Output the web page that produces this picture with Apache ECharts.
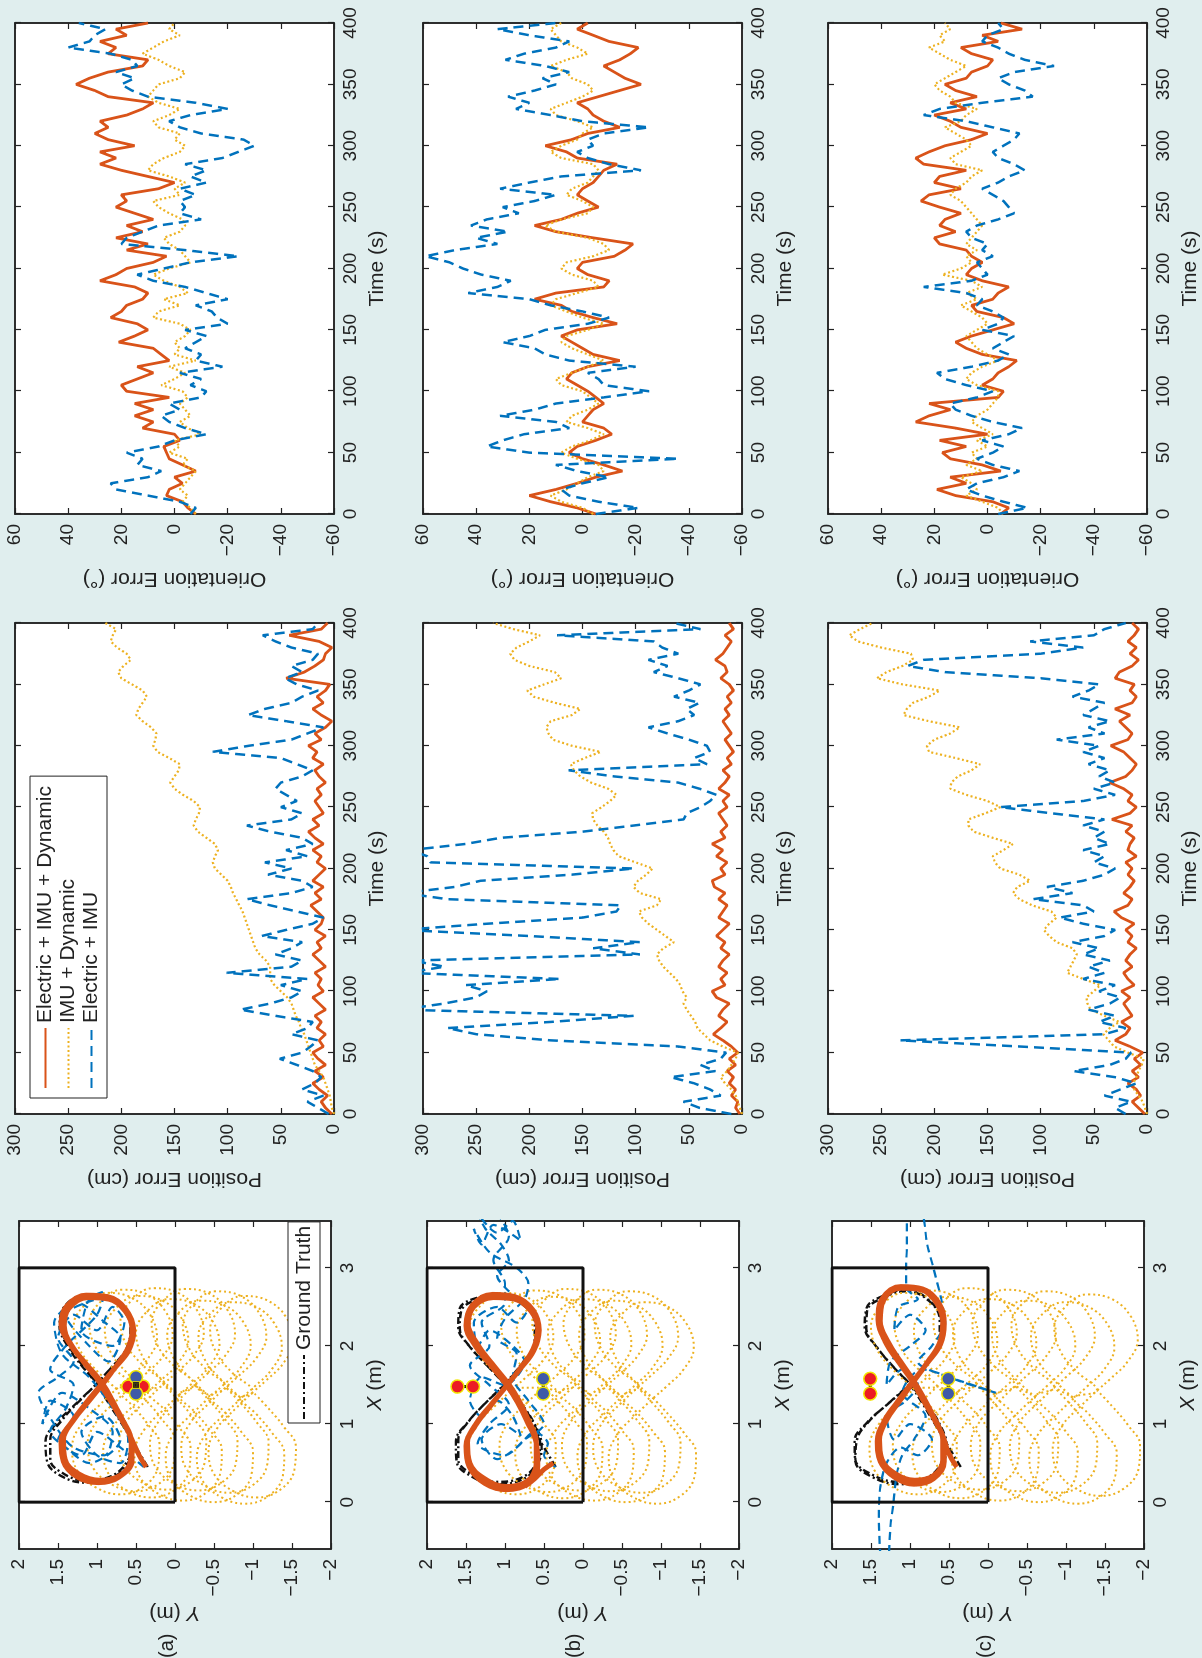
<!DOCTYPE html>
<html>
<head>
<meta charset="UTF-8">
<title>Position and orientation errors</title>
<script src="https://cdn.jsdelivr.net/npm/echarts@6/dist/echarts.min.js"></script>
<style>
    html, body { margin: 0; padding: 0; width: 1202px; height: 1658px; overflow: hidden; background: #e0eeee; }
    /* the figure is laid out landscape and turned a quarter turn, like the printed page */
    #chart { position: absolute; left: 0; top: 0; width: 1658px; height: 1202px;
             transform-origin: 0 0; transform: translate(0, 1658px) rotate(-90deg); }
</style>
</head>
<body>
<div id="chart"></div>
<script>
    var RED = '#d95319', YEL = '#edb120', BLU = '#0072bd', INK = '#222';
    var FONT = '"Liberation Sans", Arial, Helvetica, sans-serif';
    var NAMES = ['Electric + IMU + Dynamic', 'IMU + Dynamic', 'Electric + IMU'];

    // samples every 5 s, 0..400
    var TIME = [];
    for (var t = 0; t <= 400; t += 5) TIME.push(t);

    // ---- orientation error (deg) ----
    var oriRedA = [-8,-5,-3,3,2,-3,0,-8,-3,2, 3,4,-2,0,12,8,15,8,15,2, 18,20,14,8,14,2,5,8,21,15,
        10,14,24,20,18,12,10,15,28,22, 18,8,3,18,10,22,12,18,8,15, 22,18,20,6,0,10,20,28,22,28,
        15,25,30,25,28,18,12,8,25,30, 37,32,25,12,10,25,22,28,18,22, 10];
    var oriYelA = [-8,-6,-3,-5,-2,-4,-6,-8,-3,-5, 2,-2,0,-10,-5,-2,-6,-4,-2,-5, -3,5,0,-4,2,-8,0,-2,0,-4,
        -6,-2,8,6,-2,4,-5,-2,4,8, 2,-6,-4,-2,2,4,-2,-4,-3,2, 6,8,-2,0,-4,2,10,8,4,-2,
        -4,0,-2,6,8,2,-2,6,10,8, 6,-2,-4,2,6,12,8,4,-2,2, 0];
    var oriBluA = [-6,-8,-2,10,22,24,10,5,14,12, 18,6,0,-12,-4,2,5,-2,2,-10, -12,-6,-10,-2,-18,-8,-10,-4,-8,-12,
        -4,-20,-16,-14,-8,-20,-12,-4,8,14, 4,-6,-24,-4,20,18,12,6,-10,-2, -4,-2,-8,-2,-12,-6,-12,-4,-18,-24,
        -30,-26,-10,-2,2,-6,-20,-8,10,16, 20,15,22,14,16,24,40,32,30,26, 36];

    var oriRedB = [-5,2,12,20,10,2,-5,-15,-8,0, 5,2,-5,-11,-8,0,-2,-4,-8,-5, -2,2,6,4,-2,-14,-4,0,4,8,
        2,-13,-4,4,8,18,10,-8,-10,-2, 2,0,-12,-16,-19,-4,10,18,8,2, -6,-2,2,0,-4,-6,-8,-13,2,6,
        14,4,-2,-14,-8,-4,-2,2,-6,-14, -22,-16,-12,-8,-14,-18,-21,-10,-4,2, -2];
    var oriYelB = [-4,0,8,12,6,2,-2,-8,-6,2, 8,4,-3,-8,-2,6,4,-2,-6,-3, 0,8,10,4,-2,-8,-2,4,8,6,
        -2,-8,0,6,12,10,2,-6,-4,4, 8,6,-4,-10,-8,-2,10,14,8,-2, -4,0,6,4,-2,-4,-6,-4,8,12,
        8,2,0,-4,2,10,12,6,0,-4, -2,4,6,12,6,-2,2,8,10,12, 8];
    var oriBluB = [-5,-21,-6,5,8,0,-10,2,10,-36, 20,36,30,22,5,10,31,18,10,-8, -25,-8,-6,-2,-20,5,14,18,30,20,
        14,-2,-10,0,12,20,43,32,27,38, 45,50,59,48,32,40,28,42,36,24, 30,18,10,31,20,8,-22,-10,-2,2,
        -4,-2,-8,-25,0,12,25,20,28,18, 10,15,5,14,29,22,10,5,20,32, 10];

    var oriRedC = [-5,-8,-2,12,19,8,14,-5,2,14, 17,8,18,0,12,27,22,14,22,-4, -6,2,-2,-4,-8,-11,2,8,12,6,
        -2,-10,-6,4,6,-2,-4,-8,2,8, 6,2,6,8,18,20,12,18,16,10, 18,25,22,10,20,18,8,24,27,22,
        16,6,0,10,14,20,8,14,4,12, 16,8,6,0,-2,6,10,-4,2,-13, -5];
    var oriYelC = [-6,-4,2,8,4,6,10,2,8,4, 6,0,4,-2,2,6,4,0,-2,-4, -4,4,8,6,2,-4,0,4,6,8,
        4,0,2,6,10,4,8,2,6,17, 10,6,8,4,8,6,4,2,4,6, 8,10,14,12,8,6,2,12,14,10,
        6,8,12,16,10,8,4,12,14,18, 20,16,12,8,14,18,22,16,18,14, 16];
    var oriBluC = [-4,-15,-6,2,8,4,-6,-12,-2,4, -2,-6,2,-8,-13,-2,6,12,14,4, -2,8,16,19,6,-4,-8,-2,-6,-10,
        2,-4,-6,-2,4,2,8,24,6,0, 2,4,-2,2,0,6,8,4,-4,-10, -8,-6,-2,2,-4,-8,-14,-10,-4,-2,
        -6,-10,-12,-2,8,24,18,2,-17,-14, -8,-4,-10,-25,-14,-8,-4,2,0,-6, -4];

    // ---- position error (cm) ----
    var posRedA = [2,8,12,6,14,20,10,18,8,15, 20,10,14,8,16,12,18,8,14,20, 10,15,12,18,8,14,20,12,16,8,
        18,12,10,16,22,12,18,10,20,14, 8,16,12,20,10,18,24,14,20,10, 14,18,12,16,8,14,18,10,20,16,
        24,12,18,8,2,12,20,10,16,8, 4,45,28,18,10,8,2,14,42,12, 6];
    var posYelA = [0,2,3,4,6,8,10,14,18,20, 22,24,26,28,31,33,36,38,40,44, 50,56,60,60,60,64,70,74,76,78,
        80,82,84,86,89,92,95,97,100,106, 112,114,112,109,112,120,128,132,130,127, 126,132,142,150,154,150,146,145,155,166,
        170,168,167,172,180,186,184,180,176,180, 190,200,203,198,191,195,204,210,208,205, 215];
    var posBluA = [5,15,25,10,30,18,12,20,35,51, 30,22,15,40,25,20,55,88,60,40, 30,50,25,101,40,30,55,40,30,68,
        45,20,10,35,60,82,40,20,30,62, 40,65,25,45,20,30,60,82,40,30, 50,35,45,55,50,30,20,35,50,114,
        80,40,25,10,45,81,65,40,30,15, 35,46,30,40,20,15,40,55,67,20, 15];

    var posRedB = [2,6,4,10,6,12,8,14,6,12, 4,10,18,27,20,14,22,18,12,24, 28,16,20,14,22,18,12,20,16,24,
        18,12,22,18,14,22,16,26,28,16, 20,14,24,18,28,16,20,14,18,22, 14,18,12,22,16,12,18,10,14,8,
        12,16,10,14,18,12,16,10,14,8, 12,20,14,16,25,18,14,10,16,8, 12];
    var posYelB = [0,2,4,6,10,16,20,14,10,6, 4,18,30,36,42,44,48,52,55,52, 56,58,62,68,74,78,80,74,64,72,
        80,88,94,97,80,76,96,102,98,90, 84,100,116,121,124,126,130,136,140,141, 132,124,118,126,142,152,158,161,148,133,
        160,178,182,184,180,160,152,176,196,202, 186,170,176,200,214,218,212,200,190,215, 234];
    var posBluB = [10,40,55,20,30,45,67,25,39,20, 15,60,180,250,277,180,102,320,280,250, 240,260,171,315,280,310,96,140,96,200,
        320,240,150,118,114,277,318,270,246,160, 102,293,296,312,260,227,150,102,55,52, 39,30,24,40,60,120,163,33,45,30,
        33,50,70,88,60,45,52,40,64,50, 39,60,83,70,88,60,75,83,174,39, 64];

    var posRedC = [2,8,14,6,10,18,8,14,6,12, 4,16,30,20,16,24,14,18,22,16, 24,12,18,22,14,20,16,10,18,14,
        20,12,24,31,18,14,22,16,12,18, 14,20,10,18,16,12,20,14,33,16, 10,18,14,22,35,20,14,10,16,22,
        34,18,14,20,26,16,30,14,10,16, 12,30,26,14,8,16,10,18,12,8, 14];
    var posYelC = [0,2,4,8,12,13,10,8,5,3, 18,31,36,41,35,26,40,53,56,57, 50,44,60,75,72,69,66,70,85,92,
        97,92,85,90,108,120,126,122,110,120, 138,143,145,135,126,145,163,168,168,152, 138,150,170,185,184,178,165,157,180,205,
        207,200,185,176,205,229,226,220,205,195, 230,254,245,230,220,222,250,272,280,270, 258];
    var posBluC = [20,30,15,40,25,10,30,69,35,20, 15,120,232,40,20,45,30,55,35,25, 45,30,60,40,55,35,60,45,70,40,
        30,60,82,50,60,107,70,94,60,40, 30,50,40,60,35,50,40,60,40,90, 138,60,30,50,30,45,35,55,40,60,
        45,85,40,55,35,60,50,40,70,55, 45,100,190,225,210,100,60,110,50,40, 20];

    // ---- trajectories, [X, Y] in metres ----
    var ROOM = [[0,0],[3,0],[3,2],[0,2],[0,0]];

    var GT_A = [[0.45,0.35],[0.7,0.5],[1.0,0.68],[1.25,0.84],[1.5,1.0],[1.74,1.18],[2.0,1.36],[2.25,1.46],[2.48,1.4],[2.62,1.16],
        [2.62,0.88],[2.46,0.66],[2.22,0.57],[1.97,0.62],[1.74,0.8],[1.52,1.0],[1.3,1.22],[1.05,1.45],[0.8,1.6],[0.55,1.6],
        [0.36,1.42],[0.28,1.15],[0.32,0.85],[0.48,0.64],[0.72,0.56],[1.0,0.64],[1.25,0.8],[1.5,0.98],[1.75,1.2],[2.0,1.38],
        [2.26,1.48],[2.5,1.42],[2.64,1.18],[2.63,0.88],[2.47,0.65],[2.2,0.56],[1.95,0.62],[1.72,0.82],[1.5,1.02],[1.28,1.25],
        [1.03,1.5],[0.78,1.66],[0.52,1.64],[0.33,1.45],[0.25,1.15],[0.3,0.84],[0.47,0.62],[0.72,0.55],[1.0,0.63],[1.25,0.79],[1.5,0.98]];
    var GT_B = [[0.45,0.35],[0.7,0.5],[1.0,0.68],[1.25,0.83],[1.5,1.0],[1.74,1.22],[1.98,1.44],[2.22,1.58],[2.45,1.56],[2.6,1.34],
        [2.64,1.04],[2.52,0.76],[2.3,0.62],[2.04,0.62],[1.78,0.78],[1.52,1.0],[1.28,1.24],[1.04,1.46],[0.8,1.6],[0.55,1.6],
        [0.36,1.42],[0.26,1.12],[0.3,0.82],[0.46,0.62],[0.72,0.55],[1.0,0.63],[1.26,0.8],[1.5,0.99],[1.75,1.23],[2.0,1.46],
        [2.24,1.6],[2.48,1.58],[2.62,1.35],[2.66,1.04],[2.53,0.75],[2.3,0.6],[2.02,0.62],[1.76,0.79],[1.5,1.01],[1.26,1.26],
        [1.02,1.48],[0.78,1.63],[0.52,1.62],[0.33,1.43],[0.23,1.12],[0.28,0.8],[0.45,0.6],[0.72,0.53],[1.0,0.62],[1.26,0.79],[1.5,0.99]];
    var GT_C = [[0.45,0.35],[0.7,0.5],[1.0,0.68],[1.25,0.83],[1.5,1.0],[1.74,1.22],[1.98,1.42],[2.22,1.56],[2.45,1.55],[2.62,1.34],
        [2.7,1.04],[2.58,0.76],[2.34,0.62],[2.06,0.62],[1.8,0.78],[1.52,1.0],[1.28,1.26],[1.04,1.52],[0.8,1.68],[0.55,1.7],
        [0.36,1.5],[0.26,1.15],[0.3,0.82],[0.46,0.62],[0.72,0.55],[1.0,0.63],[1.26,0.8],[1.5,0.99],[1.75,1.23],[2.0,1.44],
        [2.24,1.58],[2.48,1.56],[2.64,1.35],[2.72,1.04],[2.58,0.75],[2.32,0.6],[2.04,0.62],[1.78,0.79],[1.5,1.01],[1.26,1.28],
        [1.02,1.55],[0.78,1.71],[0.52,1.7],[0.33,1.5],[0.23,1.14],[0.28,0.8],[0.45,0.6],[0.72,0.53],[1.0,0.62],[1.26,0.79],[1.5,0.99]];

    var RED_A = [[0.45,0.37],[0.6,0.46],[0.82,0.56],[1.06,0.68],[1.3,0.8],[1.52,0.93],[1.76,1.13],[2.0,1.32],[2.26,1.42],[2.48,1.36],
        [2.62,1.12],[2.6,0.85],[2.45,0.64],[2.22,0.55],[1.98,0.6],[1.75,0.75],[1.52,0.92],[1.3,1.1],[1.05,1.3],[0.8,1.43],
        [0.55,1.41],[0.36,1.23],[0.28,0.96],[0.34,0.71],[0.53,0.57],[0.78,0.56],[1.05,0.67],[1.3,0.81],[1.53,0.96],[1.78,1.16],
        [2.03,1.35],[2.28,1.46],[2.51,1.39],[2.65,1.14],[2.63,0.86],[2.47,0.63],[2.2,0.53],[1.95,0.59],[1.72,0.77],[1.5,0.95],
        [1.27,1.14],[1.02,1.33],[0.78,1.46],[0.52,1.43],[0.32,1.25],[0.25,0.98],[0.32,0.72],[0.54,0.55],[0.82,0.57],[1.08,0.7],
        [1.32,0.84],[1.52,0.97]];
    var RED_B = [[0.5,0.38],[0.42,0.5],[0.3,0.62],[0.2,0.75],[0.28,0.68],[0.5,0.6],[0.78,0.6],[1.05,0.7],[1.3,0.82],[1.52,0.96],
        [1.78,1.17],[2.02,1.35],[2.28,1.47],[2.5,1.4],[2.62,1.15],[2.6,0.88],[2.45,0.67],[2.22,0.58],[1.96,0.64],[1.72,0.8],
        [1.5,0.97],[1.27,1.16],[1.02,1.36],[0.76,1.48],[0.5,1.45],[0.3,1.26],[0.2,0.98],[0.26,0.73],[0.46,0.6],[0.74,0.6],
        [1.02,0.71],[1.28,0.84],[1.5,0.98],[1.76,1.19],[2.0,1.38],[2.26,1.5],[2.52,1.42],[2.66,1.16],[2.63,0.87],[2.46,0.64],
        [2.2,0.56],[1.94,0.63],[1.7,0.81],[1.48,0.99],[1.24,1.18],[0.98,1.38],[0.72,1.5],[0.46,1.46],[0.24,1.26],[0.16,0.98],
        [0.24,0.7],[0.46,0.58],[0.76,0.6],[1.04,0.72],[1.3,0.85],[1.5,0.98]];
    var RED_C = [[0.45,0.4],[0.62,0.5],[0.85,0.58],[1.1,0.7],[1.33,0.82],[1.55,0.95],[1.8,1.12],[2.05,1.28],[2.32,1.38],[2.58,1.34],
        [2.74,1.12],[2.72,0.86],[2.55,0.66],[2.3,0.58],[2.04,0.62],[1.8,0.77],[1.55,0.95],[1.3,1.13],[1.05,1.3],[0.8,1.39],
        [0.55,1.36],[0.36,1.18],[0.28,0.94],[0.34,0.7],[0.54,0.58],[0.8,0.58],[1.06,0.69],[1.3,0.82],[1.55,0.97],[1.8,1.15],
        [2.06,1.32],[2.34,1.41],[2.6,1.36],[2.76,1.12],[2.73,0.84],[2.55,0.63],[2.28,0.56],[2.02,0.61],[1.78,0.78],[1.55,0.96],
        [1.3,1.15],[1.04,1.33],[0.78,1.42],[0.52,1.38],[0.32,1.2],[0.23,0.95],[0.3,0.7],[0.52,0.56],[0.8,0.57],[1.08,0.7],
        [1.32,0.84],[1.55,0.97]];

    var BLU_A = [[0.45,0.4],[0.7,0.7],[0.9,1.0],[0.6,1.2],[0.8,1.5],[1.1,1.3],[1.3,1.6],[1.0,1.7],[1.4,1.45],[1.2,1.1],
        [0.9,0.8],[0.6,0.9],[0.7,1.3],[1.0,1.55],[1.4,1.75],[1.6,1.5],[1.8,1.3],[2.1,1.5],[2.4,1.3],[2.2,1.0],
        [2.5,0.8],[2.3,0.65],[2.0,0.8],[2.2,1.2],[2.6,1.1],[2.7,0.9],[2.4,1.0],[2.0,1.4],[1.7,1.6],[1.5,1.3],
        [1.2,1.4],[0.9,1.6],[0.7,1.4],[0.5,1.1],[0.8,0.7],[1.1,0.9],[0.9,1.2],[0.6,1.0],[0.5,0.7],[0.8,0.6],
        [1.2,0.8],[1.6,1.1],[1.9,1.45],[2.3,1.55],[2.55,1.25],[2.3,0.9],[2.1,0.7],[1.8,0.85],[2.0,1.1],[2.4,1.4],[2.6,1.0]];
    var BLU_B = [[0.45,0.35],[0.6,0.5],[0.75,0.45],[0.9,0.62],[0.7,0.85],[0.55,1.1],[0.8,1.3],[1.0,1.05],[0.85,0.8],[1.1,0.9],
        [1.3,1.1],[1.1,1.3],[1.3,1.45],[1.6,1.3],[1.5,1.0],[1.8,0.75],[2.0,0.9],[2.2,1.2],[2.0,1.35],[2.3,1.4],
        [2.5,1.1],[2.3,0.85],[2.5,0.7],[2.7,0.95],[2.9,1.1],[3.1,0.95],[3.3,1.05],[3.5,1.25],[3.7,1.35],[3.45,1.1],
        [3.6,0.9],[3.35,0.8],[3.55,1.15],[3.3,1.3],[3.5,1.4],[3.2,1.2],[3.0,0.85],[2.8,0.7],[2.6,0.75],[2.35,1.0],
        [2.1,1.1],[1.9,0.85],[1.6,0.9],[1.3,0.7],[1.0,0.5],[0.8,0.75],[0.6,1.0],[0.75,1.35],[1.0,1.2],[1.25,0.95],
        [1.5,1.2],[1.75,1.45],[2.0,1.2],[2.3,1.3],[2.55,1.0],[2.8,1.0],[3.1,1.15],[3.4,0.95],[3.7,1.1]];
    var BLU_C = [[-0.7,1.38],[-0.2,1.4],[0.2,1.38],[0.5,1.3],[0.7,1.12],[0.6,0.9],[0.8,0.72],[1.0,1.0],[0.8,1.2],[1.1,1.3],
        [1.3,1.05],[1.5,0.9],[1.7,1.1],[1.5,1.3],[1.8,1.25],[2.0,1.0],[2.2,0.8],[2.4,1.0],[2.2,1.2],[2.5,1.15],
        [2.6,0.9],[2.75,1.05],[3.0,1.05],[3.3,1.04],[3.7,1.04],[3.7,0.86],[3.3,0.78],[3.0,0.7],[2.6,0.6],[2.3,0.55],
        [2.0,0.72],[1.8,0.9],[1.6,0.5],[1.4,-0.1],[1.55,0.35],[1.7,0.85],[1.4,1.1],[1.1,0.8],[0.8,0.95],[0.6,1.1],
        [0.3,1.18],[0.0,1.21],[-0.3,1.25],[-0.7,1.27]];

    // IMU-only loop and the drift of each successive lap
    var YEL_LOOP = [[1.45,0.95],[1.7,1.22],[1.95,1.42],[2.25,1.5],[2.52,1.36],[2.68,1.08],[2.62,0.76],[2.4,0.52],[2.1,0.43],[1.82,0.56],
        [1.6,0.78],[1.45,0.95],[1.25,1.16],[1.0,1.4],[0.7,1.52],[0.4,1.45],[0.18,1.2],[0.1,0.9],[0.2,0.6],[0.45,0.42],
        [0.75,0.4],[1.0,0.55],[1.25,0.76],[1.45,0.95]];
    var YEL_DRIFT_A = [[0,-0.2],[0.04,-0.4],[-0.04,-0.6],[0.06,-0.8],[-0.08,-1.0],[0.05,-1.2],[-0.1,-1.4],[0.02,-1.6],[-0.12,-1.8],[-0.04,-1.95]];
    var YEL_DRIFT_B = [[0,-0.05],[0.03,-0.45],[-0.05,-0.65],[0.05,-0.85],[-0.08,-1.05],[0.04,-1.25],[-0.1,-1.45],[0.02,-1.65],[-0.12,-1.85]];
    var YEL_DRIFT_C = [[0,0],[0.03,-0.3],[-0.05,-0.55],[0.06,-0.8],[-0.08,-1.05],[0.04,-1.3],[-0.1,-1.55],[0.02,-1.8],[-0.12,-2.05],[-0.02,-2.35]];

    // electrode pairs drawn on the map
    var RED_PAIR = [[[1.48,0.6],[1.48,0.41]], [[1.48,1.61],[1.48,1.41]], [[1.58,1.51],[1.39,1.51]]];
    var BLU_PAIR = [[[1.6,0.5],[1.39,0.5]], [[1.58,0.51],[1.39,0.51]], [[1.58,0.51],[1.39,0.51]]];

    var ORI = [[oriRedA, oriYelA, oriBluA], [oriRedB, oriYelB, oriBluB], [oriRedC, oriYelC, oriBluC]];
    var POS = [[posRedA, posYelA, posBluA], [posRedB, posYelB, posBluB], [posRedC, posYelC, posBluC]];
    var TRAJ = [
        {gt: GT_A, red: RED_A, blu: BLU_A, loop: YEL_DRIFT_A},
        {gt: GT_B, red: RED_B, blu: BLU_B, loop: YEL_DRIFT_B},
        {gt: GT_C, red: RED_C, blu: BLU_C, loop: YEL_DRIFT_C}
    ];
    var PANEL = ['(a)', '(b)', '(c)'];

    function fmt(v) {
        return v < 0 ? '\u2212' + (-v) : String(v);
    }
    function withTime(vals) {
        return vals.map(function (v, i) { return [TIME[i], v]; });
    }
    function laps(loop, drift) {
        var out = [];
        drift.forEach(function (d) {
            loop.forEach(function (p) { out.push([p[0] + d[0], p[1] + d[1]]); });
        });
        return out;
    }

    var grids = [], xAxes = [], yAxes = [], series = [], graphic = [];
    var ROW_TOP = [15, 423, 828], ROW_TOP_MAP = [19, 427, 832];
    var PANEL_MID = [168, 575, 986];

    function addAxis(list, kind, gi, c) {
        var main = {
            type: 'value', gridIndex: gi, min: c.min, max: c.max,
            position: kind == 'x' ? 'bottom' : 'left',
            name: c.name, nameLocation: 'middle', nameGap: c.gap,
            nameTextStyle: {fontSize: 21, color: INK, fontFamily: FONT,
                rich: {i: {fontSize: 21, fontStyle: 'italic', color: INK, fontFamily: FONT}}},
            axisLine: {show: true, onZero: false, lineStyle: {color: INK, width: 1.5}},
            axisTick: {show: true, inside: true, length: 6, lineStyle: {color: INK, width: 1.2}},
            axisLabel: {show: true, margin: kind == 'x' ? 7 : 10, fontSize: 19, color: INK, fontFamily: FONT, formatter: fmt},
            splitLine: {show: false}
        };
        if (c.interval) main.interval = c.interval;
        if (c.ticks) {
            main.axisTick.customValues = c.ticks;
            main.axisLabel.customValues = c.ticks;
        }
        // mirrored ticks on the opposite side, as in the MATLAB box
        var mirror = {
            type: 'value', gridIndex: gi, min: c.min, max: c.max,
            position: kind == 'x' ? 'top' : 'right',
            axisLine: {show: true, onZero: false, lineStyle: {color: INK, width: 1.5}},
            axisTick: {show: true, inside: true, length: 6, lineStyle: {color: INK, width: 1.2}},
            axisLabel: {show: false},
            splitLine: {show: false}
        };
        if (c.interval) mirror.interval = c.interval;
        if (c.ticks) mirror.axisTick.customValues = c.ticks;
        list.push(main, mirror);
        return list.length - 2;
    }

    function addPanel(rect, xc, yc) {
        var gi = grids.length;
        grids.push({left: rect[0], top: rect[1], width: rect[2], height: rect[3], show: true,
            backgroundColor: '#fff', borderColor: INK, borderWidth: 1.5});
        return {x: addAxis(xAxes, 'x', gi, xc), y: addAxis(yAxes, 'y', gi, yc)};
    }

    var LINE = [
        {color: RED, width: 2.8, type: 'solid'},
        {color: YEL, width: 2.2, type: [2, 2.5]},
        {color: BLU, width: 2.5, type: [10, 6]}
    ];

    function line(ax, name, data, style, extra) {
        var s = {type: 'line', name: name, xAxisIndex: ax.x, yAxisIndex: ax.y, data: data,
            symbol: 'none', showSymbol: false, clip: true,
            lineStyle: style, itemStyle: {color: style.color}};
        for (var k in extra) s[k] = extra[k];
        series.push(s);
    }

    var maps = [];
    for (var r = 0; r < 3; r++) {
        var timeAxis = {min: 0, max: 400, interval: 50, name: 'Time (s)', gap: 33};
        var pos = addPanel([544, ROW_TOP[r], 491, 319], timeAxis,
            {min: 0, max: 300, interval: 50, name: 'Position Error (cm)', gap: 54});
        var ori = addPanel([1144, ROW_TOP[r], 491, 319], timeAxis,
            {min: -60, max: 60, interval: 20, name: 'Orientation Error (\u00b0)', gap: 54});
        for (var k = 0; k < 3; k++) {
            line(pos, NAMES[k], withTime(POS[r][k]), LINE[k], {z: 2 + k});
            line(ori, NAMES[k], withTime(ORI[r][k]), LINE[k], {z: 2 + k});
        }
        maps.push(addPanel([109, ROW_TOP_MAP[r], 328, 312],
            {min: -0.6, max: 3.6, ticks: [0, 1, 2, 3], name: '{i|X} (m)', gap: 34},
            {min: -2, max: 2, interval: 0.5, name: '{i|Y} (m)', gap: 53}));
        graphic.push({type: 'text', left: 0, top: PANEL_MID[r] - 11,
            style: {text: PANEL[r], fontSize: 20, fill: INK, font: '20px ' + FONT}});
    }

    for (var r = 0; r < 3; r++) {
        var ax = maps[r], d = TRAJ[r];
        line(ax, 'Ground Truth', d.gt, {color: '#111', width: 2.4, type: [7, 3, 2, 3]}, {z: 2, smooth: 0.4});
        line(ax, NAMES[1], laps(YEL_LOOP, d.loop), {color: YEL, width: 2, type: [2, 3]}, {z: 3, smooth: 0.4});
        line(ax, NAMES[2], d.blu, {color: BLU, width: 2.2, type: [8, 5]}, {z: 4, smooth: 0.3});
        line(ax, NAMES[0], d.red, {color: RED, width: 5, type: 'solid'}, {z: 5, smooth: 0.4});
        line(ax, 'room', ROOM, {color: '#111', width: 3, type: 'solid'}, {z: 6});
        line(ax, 'red pair', RED_PAIR[r], {color: '#111', width: 3, type: 'solid'}, {z: 7});
        line(ax, 'blue pair', BLU_PAIR[r], {color: '#111', width: 3, type: 'solid'}, {z: 7});
        series.push({type: 'scatter', name: 'red electrodes', xAxisIndex: ax.x, yAxisIndex: ax.y, data: RED_PAIR[r],
            symbolSize: 13, z: 8, itemStyle: {color: '#ec1c24', borderColor: '#f2e600', borderWidth: 1.5, opacity: 1}});
        series.push({type: 'scatter', name: 'blue electrodes', xAxisIndex: ax.x, yAxisIndex: ax.y, data: BLU_PAIR[r],
            symbolSize: 13, z: 8, itemStyle: {color: '#3f5aa8', borderColor: '#f2e600', borderWidth: 1.5, opacity: 1}});
    }
    // centre block of the cross-shaped electrode layout in (a)
    series.push({type: 'scatter', name: 'centre', xAxisIndex: maps[0].x, yAxisIndex: maps[0].y, data: [[1.5, 0.5]],
        symbol: 'rect', symbolSize: 7, z: 9, itemStyle: {color: '#111', borderColor: '#f2e600', borderWidth: 1}});

    var chart = echarts.init(document.getElementById('chart'));
    chart.setOption({
        animation: false,
        backgroundColor: 'transparent',
        textStyle: {fontFamily: FONT},
        grid: grids,
        xAxis: xAxes,
        yAxis: yAxes,
        legend: [
            {data: NAMES, left: 560, top: 30, orient: 'vertical', selectedMode: false,
                itemWidth: 60, itemHeight: 14, itemGap: 0, padding: [4, 10, 4, 9],
                itemStyle: {opacity: 0},
                borderColor: INK, borderWidth: 1, backgroundColor: '#fff',
                textStyle: {fontSize: 21, lineHeight: 23, color: INK, fontFamily: FONT}},
            {data: ['Ground Truth'], left: 235, top: 288, selectedMode: false,
                itemWidth: 64, itemHeight: 14, padding: [5, 4, 5, 3],
                itemStyle: {opacity: 0},
                borderColor: INK, borderWidth: 1, backgroundColor: '#fff',
                textStyle: {fontSize: 21, lineHeight: 22, color: INK, fontFamily: FONT}}
        ],
        graphic: graphic,
        series: series
    });
</script>
</body>
</html>
